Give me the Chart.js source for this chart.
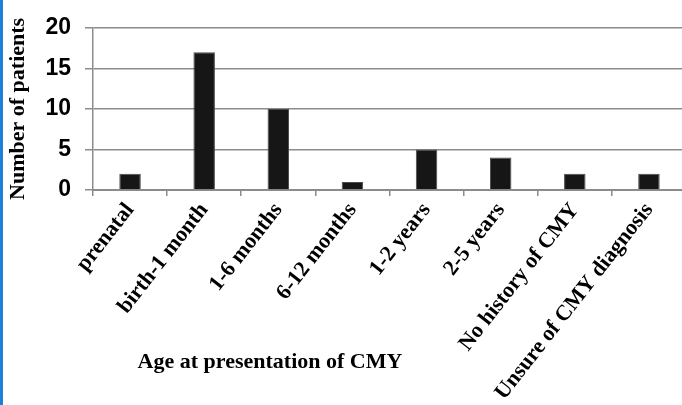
<!DOCTYPE html>
<html>
<head>
<meta charset="utf-8">
<script src="https://cdn.jsdelivr.net/npm/chart.js@4.4.1/dist/chart.umd.min.js"></script>
<style>
  html, body { margin: 0; padding: 0; background: #fff; overflow: hidden; }
  #wrap { position: relative; width: 690px; height: 405px; border-left: 3px solid #1e7fd8; box-sizing: border-box; }
</style>
</head>
<body>
<div id="wrap"><canvas id="ageChart"></canvas></div>
<script>
const ageGroups = [
	"prenatal",
	"birth-1 month",
	"1-6 months",
	"6-12 months",
	"1-2 years",
	"2-5 years",
	"No history of CMY",
	"Unsure of CMY diagnosis",
];
const patientCounts = [2, 17, 10, 1, 5, 4, 2, 2];
const yTicks = [0, 5, 10, 15, 20];

const xTitle = "Age at presentation of CMY";
const yTitle = "Number of patients";

const serifBold = { family: "'Liberation Serif', 'Times New Roman', serif", weight: "bold", size: 22 };
const gridGray = "#8c8c8c";

// x-axis title sits left of center and above the label ends in the original
const xTitlePlugin = {
	id: "xTitle",
	afterDraw(chart) {
		const ctx = chart.ctx;
		ctx.save();
		ctx.font = "bold 22px 'Liberation Serif', 'Times New Roman', serif";
		ctx.fillStyle = "#000";
		ctx.textAlign = "center";
		ctx.textBaseline = "middle";
		ctx.fillText(xTitle, 267, 362);
		ctx.restore();
	},
};

const ageChart = new Chart(document.getElementById("ageChart").getContext("2d"), {
	type: "bar",
	data: {
		labels: ageGroups,
		datasets: [
			{
				label: yTitle,
				data: patientCounts,
				backgroundColor: "#161616",
				borderColor: "#4a4a4a",
				borderWidth: 1,
				categoryPercentage: 1,
				barPercentage: 0.29,
			},
		],
	},
	options: {
		responsive: true,
		maintainAspectRatio: false,
		animation: false,
		layout: { padding: { left: 2, top: 25, right: 4, bottom: 0 } },
		plugins: {
			legend: { display: false },
			tooltip: { enabled: false },
		},
		scales: {
			x: {
				offset: true,
				grid: {
					offset: true,
					drawOnChartArea: false,
					color: gridGray,
					lineWidth: 1.5,
					tickLength: 6,
				},
				border: { color: gridGray, width: 2 },
				ticks: {
					autoSkip: false,
					maxRotation: 52,
					minRotation: 52,
					color: "#000",
					font: serifBold,
					padding: 2,
				},
				afterFit: (scale) => {
					scale.height = 215;
				},
			},
			y: {
				min: 0,
				max: 20,
				afterBuildTicks: (scale) => {
					scale.ticks = yTicks.map((v) => ({ value: v }));
				},
				grid: {
					color: gridGray,
					lineWidth: 1.5,
					tickLength: 8,
				},
				border: { color: gridGray, width: 1.5 },
				ticks: {
					color: "#000",
					padding: 14,
					font: { family: "'Liberation Sans', Arial, sans-serif", weight: "bold", size: 23 },
				},
				title: {
					display: true,
					text: yTitle,
					color: "#000",
					font: serifBold,
					padding: 0,
				},
			},
		},
	},
	plugins: [xTitlePlugin],
});
</script>
</body>
</html>
